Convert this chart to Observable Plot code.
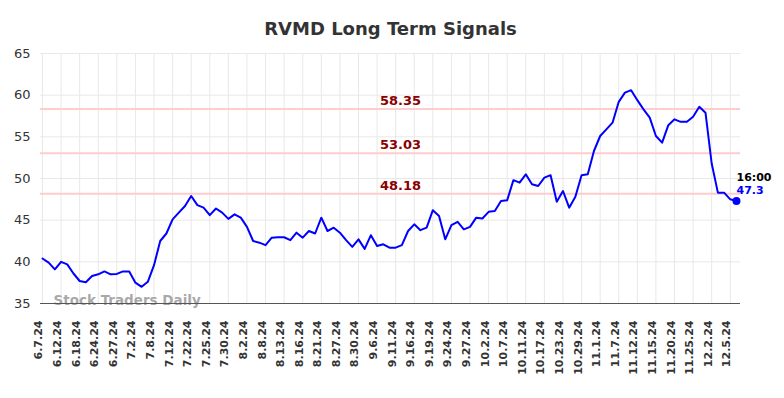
<!DOCTYPE html>
<html><head><meta charset="utf-8">
<script src="https://cdn.jsdelivr.net/npm/d3@7"></script>
<script src="https://cdn.jsdelivr.net/npm/@observablehq/plot@0.6"></script>
<style>body{margin:0;background:#fff;font-family:"DejaVu Sans",sans-serif}</style>
</head><body><div id="chart"></div>
<script>
const title = "RVMD Long Term Signals";
const watermark = "Stock Traders Daily";
const lastTime = "16:00";
const values = [
  40.4, 39.9, 39.1, 40.0, 39.7, 38.6, 37.7, 37.55, 38.3, 38.5,
  38.85, 38.5, 38.55, 38.85, 38.85, 37.5, 37.0, 37.6, 39.6, 42.5,
  43.4, 45.1, 45.9, 46.7, 47.9, 46.8, 46.5, 45.6, 46.4, 45.9,
  45.15, 45.7, 45.3, 44.2, 42.5, 42.3, 42.0, 42.9, 42.95, 42.95,
  42.6, 43.5, 42.9, 43.7, 43.4, 45.3, 43.7, 44.1, 43.5, 42.6,
  41.8, 42.7, 41.55, 43.2, 41.9, 42.1, 41.7, 41.7, 42.0, 43.7,
  44.5, 43.8, 44.1, 46.2, 45.5, 42.7, 44.4, 44.8, 43.9, 44.2,
  45.3, 45.2, 46.0, 46.1, 47.3, 47.4, 49.8, 49.5, 50.5, 49.3,
  49.1, 50.1, 50.4, 47.2, 48.5, 46.5, 47.8, 50.4, 50.5, 53.3,
  55.1, 55.9, 56.7, 59.2, 60.3, 60.6, 59.4, 58.3, 57.3, 55.1,
  54.3, 56.4, 57.1, 56.8, 56.8, 57.4, 58.6, 57.9, 51.8, 48.3,
  48.3, 47.5, 47.3
];
const tickLabels = [
  "6.7.24","6.12.24","6.18.24","6.24.24","6.27.24","7.2.24","7.8.24","7.12.24",
  "7.22.24","7.25.24","7.30.24","8.2.24","8.8.24","8.13.24","8.16.24","8.21.24",
  "8.27.24","8.30.24","9.6.24","9.11.24","9.16.24","9.19.24","9.24.24","9.27.24",
  "10.2.24","10.7.24","10.11.24","10.17.24","10.23.24","10.29.24","11.1.24","11.7.24",
  "11.12.24","11.15.24","11.20.24","11.25.24","12.2.24","12.5.24"
];
const tickStep = 3;
const levels = [58.35, 53.03, 48.18];
const yTicks = [35, 40, 45, 50, 55, 60, 65];

const data = values.map((v, i) => ({i, v}));
const ticks = tickLabels.map((t, k) => ({i: k * tickStep, t}));
const last = data[data.length - 1];

const chart = Plot.plot({
  width: 784, height: 398,
  marginLeft: 40, marginRight: 44, marginTop: 53, marginBottom: 95,
  style: {fontFamily: "DejaVu Sans, sans-serif", background: "#fff"},
  x: {domain: [-0.32, 112.65], axis: null},
  y: {domain: [35, 65], axis: null},
  marks: [
    Plot.ruleX(ticks, {x: "i", stroke: "#e8e8e8", strokeWidth: 1}),
    Plot.ruleY(yTicks, {y: d => d, stroke: "#e8e8e8", strokeWidth: 1}),
    Plot.ruleY(levels, {y: d => d, stroke: "#ffcccc", strokeWidth: 2}),
    Plot.text(levels, {y: d => d, text: d => d.toFixed(2), dx: 10, dy: -8,
      fill: "#8b0000", fontWeight: "bold", fontSize: 13}),
    Plot.text(yTicks, {y: d => d, text: d => String(d), frameAnchor: "left", dx: -10,
      textAnchor: "end", fontSize: 13, fill: "#333"}),
    Plot.text(ticks, {x: "i", text: "t", frameAnchor: "bottom", rotate: -90, textAnchor: "end",
      dy: 17, fontSize: 11, fontWeight: "bold", fill: "#333"}),
    Plot.text([watermark], {frameAnchor: "bottom-left", dx: 13, dy: 1, textAnchor: "start",
      fontSize: 13.5, fontWeight: "bold", fill: "#999", fillOpacity: 0.85}),
    Plot.ruleY([35], {y: d => d, stroke: "#555", strokeWidth: 1}),
    Plot.line(data, {x: "i", y: "v", stroke: "#0000ff", strokeWidth: 2}),
    Plot.dot([last], {x: "i", y: "v", r: 4, fill: "#0000ff"}),
    Plot.text([last], {x: "i", y: "v", text: () => lastTime, dx: 0, dy: -24, textAnchor: "start",
      fontSize: 11, fontWeight: "bold", fill: "#000"}),
    Plot.text([last], {x: "i", y: "v", text: d => String(d.v), dx: 0, dy: -11, textAnchor: "start",
      fontSize: 11, fontWeight: "bold", fill: "#0000ff"}),
    Plot.text([title], {frameAnchor: "top", dy: -31, fontSize: 18, fontWeight: "bold", fill: "#333"})
  ]
});
document.getElementById("chart").appendChild(chart);
</script>
</body></html>
